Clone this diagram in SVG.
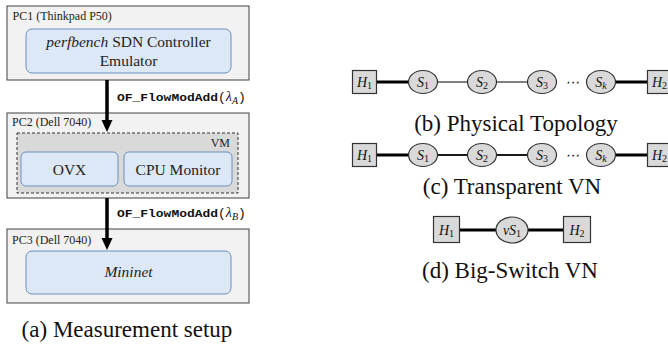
<svg xmlns="http://www.w3.org/2000/svg" width="668" height="349" viewBox="0 0 668 349">
<defs>
<style>
.pc{fill:#f2f2f2;stroke:#404040;stroke-width:1}
.blue{fill:#dce8f5;stroke:#6c8ebf;stroke-width:1}
.vm{fill:#d9d9d9;stroke:#333;stroke-width:1;stroke-dasharray:3,2}
.serif{font-family:"Liberation Serif","Times New Roman",Times,"DejaVu Serif",serif}
.sm{font-size:12px;fill:#222}
.lab{font-size:15.5px;fill:#222}
.cap{font-size:23px;fill:#111}
.mono{font-family:"Liberation Mono","Courier New",Courier,monospace;font-size:11.5px;font-weight:bold;fill:#111}
.node{fill:#d9d9d9;stroke:#333;stroke-width:1.2}
.math{font-style:italic;font-size:14px;fill:#111}
.sub{font-style:normal;font-size:10px}
.thick{stroke:#000;stroke-width:3}
.med{stroke:#000;stroke-width:1.8}
.thin{stroke:#000;stroke-width:1}
</style>
</defs>

<g id="pc1">
<rect class="pc" x="7" y="6" width="242" height="74"/>
<text class="serif sm" x="12.5" y="20">PC1 (Thinkpad P50)</text>
</g>
<g id="controller">
<rect class="blue" x="26" y="29" width="205" height="44" rx="6"/>
<text class="serif lab" x="128.5" y="47" text-anchor="middle"><tspan font-style="italic">perfbench</tspan> SDN Controller</text>
<text class="serif lab" x="128.5" y="66" text-anchor="middle">Emulator</text>
</g>

<g id="pc2">
<rect class="pc" x="7" y="113" width="242" height="85"/>
<text class="serif sm" x="12" y="126">PC2 (Dell 7040)</text>
</g>
<g id="vm">
<rect class="vm" x="17" y="133" width="221" height="60"/>
<text class="serif sm" x="230" y="147" text-anchor="end">VM</text>
</g>
<g id="ovx">
<rect class="blue" x="21" y="152" width="97" height="34" rx="5"/>
<text class="serif lab" x="69.5" y="175" text-anchor="middle">OVX</text>
</g>
<g id="cpu">
<rect class="blue" x="124" y="152" width="108" height="34" rx="5"/>
<text class="serif lab" x="178" y="175" text-anchor="middle">CPU Monitor</text>
</g>

<g id="pc3">
<rect class="pc" x="7" y="229" width="242" height="74"/>
<text class="serif sm" x="12" y="244">PC3 (Dell 7040)</text>
</g>
<g id="mininet">
<rect class="blue" x="26" y="251" width="205" height="43" rx="6"/>
<text class="serif lab" x="128.5" y="277" text-anchor="middle" font-style="italic">Mininet</text>
</g>

<g id="connectors">
<line x1="107" y1="80" x2="107" y2="122" stroke="#000" stroke-width="3.5"/>
<polygon points="101.5,120 112.5,120 107,132" fill="#000"/>
<line x1="107" y1="198" x2="107" y2="240" stroke="#000" stroke-width="3.5"/>
<polygon points="101.5,238 112.5,238 107,250" fill="#000"/>

<line class="thick" x1="377" y1="82" x2="409" y2="82"/>
<line class="thin" x1="437" y1="82" x2="468" y2="82"/>
<line class="thin" x1="496" y1="82" x2="528" y2="82"/>
<line class="thick" x1="615" y1="82" x2="647" y2="82"/>

<line class="thick" x1="377" y1="155" x2="409" y2="155"/>
<line class="med" x1="437" y1="155" x2="468" y2="155"/>
<line class="med" x1="496" y1="155" x2="528" y2="155"/>
<line class="thick" x1="615" y1="155" x2="647" y2="155"/>

<line class="thick" x1="460" y1="230" x2="496" y2="230"/>
<line class="thick" x1="528" y1="230" x2="563" y2="230"/>
</g>

<g id="labelA">
<text class="mono" x="117" y="101"><tspan textLength="101" lengthAdjust="spacingAndGlyphs">OF_FlowModAdd</tspan><tspan font-weight="normal" font-size="13">(</tspan><tspan class="serif" font-style="italic" font-weight="normal" font-size="14">λ</tspan><tspan class="serif" font-style="italic" font-weight="normal" font-size="10" dy="2.5">A</tspan><tspan font-weight="normal" font-size="13" dy="-2.5">)</tspan></text>
</g>
<g id="labelB">
<text class="mono" x="117" y="217"><tspan textLength="101" lengthAdjust="spacingAndGlyphs">OF_FlowModAdd</tspan><tspan font-weight="normal" font-size="13">(</tspan><tspan class="serif" font-style="italic" font-weight="normal" font-size="14">λ</tspan><tspan class="serif" font-style="italic" font-weight="normal" font-size="10" dy="2.5">B</tspan><tspan font-weight="normal" font-size="13" dy="-2.5">)</tspan></text>
</g>

<g id="b_h1"><rect class="node" x="352.5" y="70.5" width="24" height="23"/><text class="serif math" x="364.5" y="86.5" text-anchor="middle">H<tspan class="sub" dy="2.5">1</tspan></text></g>
<g id="b_s1"><ellipse class="node" cx="423" cy="82" rx="14.5" ry="11.5"/><text class="serif math" x="423" y="86.5" text-anchor="middle">S<tspan class="sub" dy="2.5">1</tspan></text></g>
<g id="b_s2"><ellipse class="node" cx="482" cy="82" rx="14.5" ry="11.5"/><text class="serif math" x="482" y="86.5" text-anchor="middle">S<tspan class="sub" dy="2.5">2</tspan></text></g>
<g id="b_s3"><ellipse class="node" cx="542" cy="82" rx="14.5" ry="11.5"/><text class="serif math" x="542" y="86.5" text-anchor="middle">S<tspan class="sub" dy="2.5">3</tspan></text></g>
<text class="serif math" x="572" y="87" text-anchor="middle" font-style="normal">⋯</text>
<g id="b_sk"><ellipse class="node" cx="601" cy="82" rx="14.5" ry="11.5"/><text class="serif math" x="601" y="86.5" text-anchor="middle">S<tspan font-size="10" dy="2.5">k</tspan></text></g>
<g id="b_h2"><rect class="node" x="647.5" y="70.5" width="24" height="23"/><text class="serif math" x="659.5" y="86.5" text-anchor="middle">H<tspan class="sub" dy="2.5">2</tspan></text></g>
<text class="serif cap" x="516" y="131" text-anchor="middle">(b) Physical Topology</text>

<g id="c_h1"><rect class="node" x="352.5" y="143.5" width="24" height="23"/><text class="serif math" x="364.5" y="159.5" text-anchor="middle">H<tspan class="sub" dy="2.5">1</tspan></text></g>
<g id="c_s1"><ellipse class="node" cx="423" cy="155" rx="14.5" ry="11.5"/><text class="serif math" x="423" y="159.5" text-anchor="middle">S<tspan class="sub" dy="2.5">1</tspan></text></g>
<g id="c_s2"><ellipse class="node" cx="482" cy="155" rx="14.5" ry="11.5"/><text class="serif math" x="482" y="159.5" text-anchor="middle">S<tspan class="sub" dy="2.5">2</tspan></text></g>
<g id="c_s3"><ellipse class="node" cx="542" cy="155" rx="14.5" ry="11.5"/><text class="serif math" x="542" y="159.5" text-anchor="middle">S<tspan class="sub" dy="2.5">3</tspan></text></g>
<text class="serif math" x="572" y="160" text-anchor="middle" font-style="normal">⋯</text>
<g id="c_sk"><ellipse class="node" cx="601" cy="155" rx="14.5" ry="11.5"/><text class="serif math" x="601" y="159.5" text-anchor="middle">S<tspan font-size="10" dy="2.5">k</tspan></text></g>
<g id="c_h2"><rect class="node" x="647.5" y="143.5" width="24" height="23"/><text class="serif math" x="659.5" y="159.5" text-anchor="middle">H<tspan class="sub" dy="2.5">2</tspan></text></g>
<text class="serif cap" x="512" y="194" text-anchor="middle">(c) Transparent VN</text>

<g id="d_h1"><rect class="node" x="433.5" y="216.5" width="26" height="26"/><text class="serif math" x="446.5" y="234.5" text-anchor="middle">H<tspan class="sub" dy="2.5">1</tspan></text></g>
<g id="d_vs1"><ellipse class="node" cx="512" cy="230" rx="16" ry="13"/><text class="serif math" x="512" y="234.5" text-anchor="middle">vS<tspan class="sub" dy="2.5">1</tspan></text></g>
<g id="d_h2"><rect class="node" x="563.5" y="216.5" width="27" height="26"/><text class="serif math" x="577" y="234.5" text-anchor="middle">H<tspan class="sub" dy="2.5">2</tspan></text></g>
<text class="serif cap" x="510" y="278" text-anchor="middle">(d) Big-Switch VN</text>

<text class="serif cap" x="127" y="337" text-anchor="middle" font-size="25">(a) Measurement setup</text>
</svg>
